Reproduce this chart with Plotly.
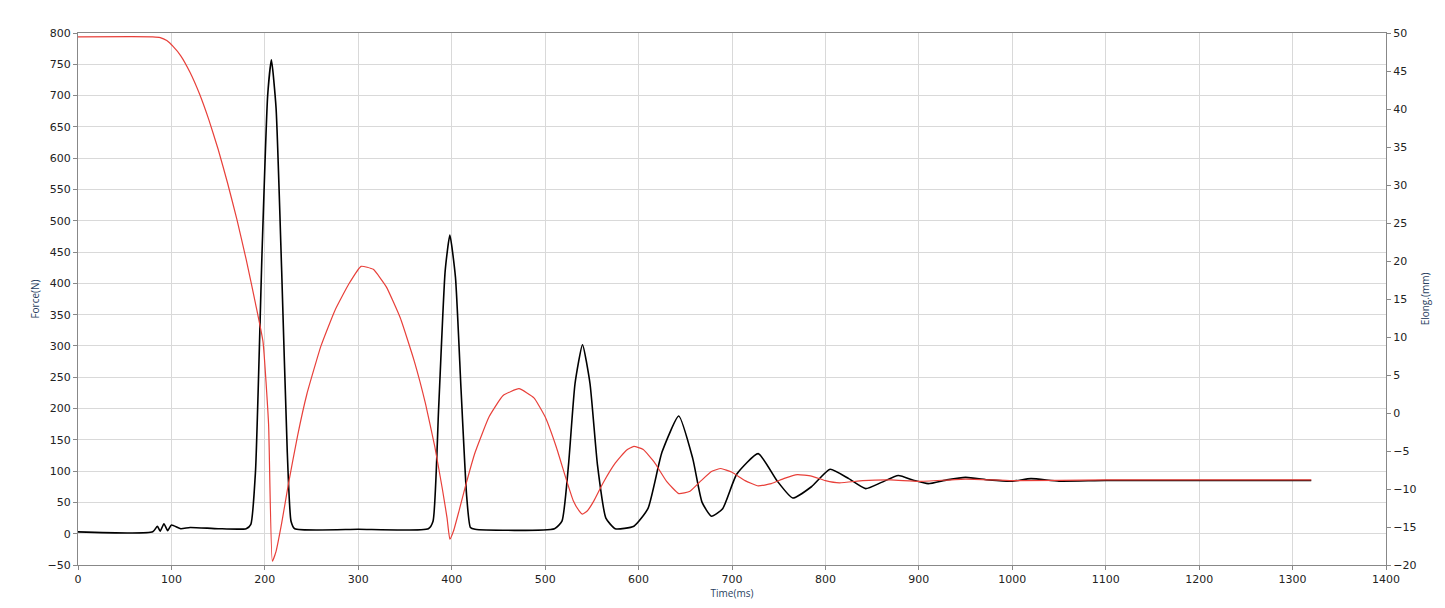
import plotly.graph_objects as go

red_t = [0,80,88,95,102,110,120,130,140,150,160,170,180,190,198,204,208,212,218,225,235,245,260,275,290,303,316,330,345,360,372,382,390,395,398,402,408,415,425,440,455,472,488,500,512,522,530,536,540,545,552,562,575,587,595,605,617,630,643,655,667,678,688,700,714,728,742,756,770,785,800,815,840,870,900,950,1000,1100,1320]
red_e = [49.5,49.5,49.4,49.0,48.2,47.0,44.8,42.0,38.6,34.7,30.3,25.5,20.2,14.4,9.4,-1.5,-19.5,-18.2,-14.5,-9.5,-3.0,2.5,8.8,13.5,17.0,19.3,18.9,16.6,12.5,6.8,1.2,-4.5,-10,-13.8,-16.6,-15.5,-12.8,-9.5,-5.2,-0.5,2.3,3.2,2.0,-0.5,-4.5,-8.5,-11.5,-12.8,-13.3,-12.9,-11.6,-9.2,-6.6,-4.9,-4.4,-4.8,-6.5,-9.0,-10.6,-10.3,-8.9,-7.7,-7.3,-7.8,-8.9,-9.6,-9.3,-8.6,-8.1,-8.3,-8.9,-9.2,-8.9,-8.8,-9.0,-8.7,-8.9,-8.8,-8.8]

blk_t = [0,80,85,88,92,96,100,110,120,150,180,185,190,197,203,207,212,218,224,228,232,300,375,380,386,393,398,404,410,416,420,425,510,518,525,532,540,548,556,565,575,595,610,625,643,658,668,678,690,705,728,748,765,785,805,825,843,860,878,895,910,930,950,975,1000,1020,1050,1100,1320]
blk_f = [3,3,12,4,16,5,14,8,10,8,8,15,100,450,700,757,680,420,130,20,8,7,8,20,200,420,477,410,230,60,10,7,8,20,110,240,302,240,110,25,8,12,40,130,188,120,50,28,40,95,128,85,57,75,103,88,72,82,93,85,80,86,90,86,84,88,84,85,85]

fig = go.Figure()
fig.add_trace(go.Scatter(x=red_t, y=red_e, mode="lines", line=dict(color="#e8403a", width=1.2, shape="spline", smoothing=0.4), yaxis="y2"))
fig.add_trace(go.Scatter(x=blk_t, y=blk_f, mode="lines", line=dict(color="black", width=1.6, shape="spline", smoothing=0.5)))

ax = dict(showgrid=True, gridcolor="#d9d9d9", gridwidth=1, ticks="outside", ticklen=4, tickcolor="#888", automargin=False,
          showline=True, linecolor="#888", tickfont=dict(family="DejaVu Sans", size=11, color="#222"), zeroline=False)
fig.update_layout(
    width=1445, height=608, showlegend=False, plot_bgcolor="white", paper_bgcolor="white",
    margin=dict(l=70, r=67, t=25, b=51),
    xaxis=dict(range=[0,1400], dtick=100, title=dict(text="Time(ms)", font=dict(size=10), standoff=4), mirror=True, **ax),
    yaxis=dict(range=[-50,800], dtick=50, title=dict(text="Force(N)", font=dict(size=10), standoff=6), **ax),
    yaxis2=dict(range=[-20,50], dtick=5, overlaying="y", side="right", title=dict(text="Elong.(mm)", font=dict(size=10), standoff=6), **{**ax, "showgrid": False}),
)
fig.write_html("out.html")
